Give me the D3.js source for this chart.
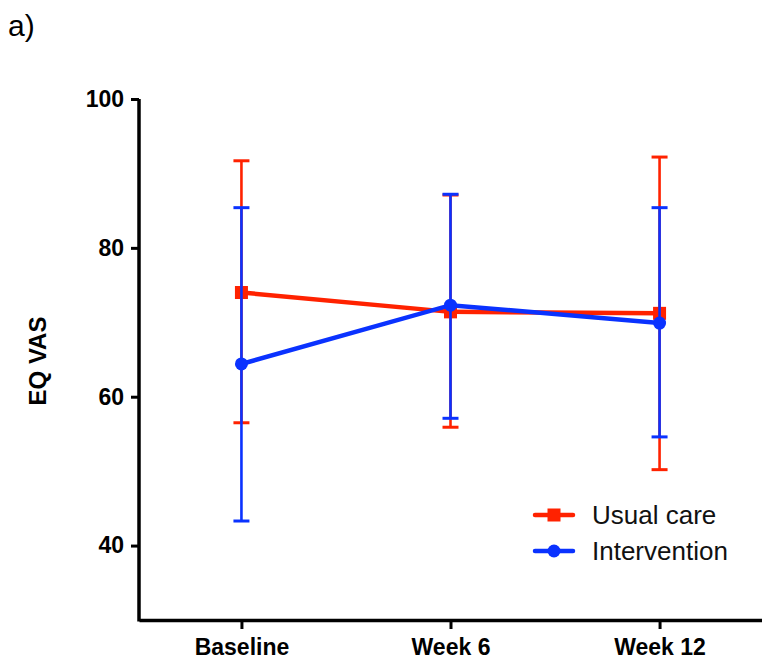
<!DOCTYPE html>
<html>
<head>
<meta charset="utf-8">
<script src="https://cdn.jsdelivr.net/npm/d3@7"></script>
<style>
  body { margin: 0; background: #fff; }
  svg { display: block; font-family: "Liberation Sans", Arial, Helvetica, sans-serif; }
</style>
</head>
<body>
<div id="chart"></div>
<script>
// time points
const timepoints = ['Baseline', 'Week 6', 'Week 12'];

// usual care: mean with lower / upper error
const usualMean = [74.0, 71.4, 71.2];
const usualLow = [56.5, 55.9, 50.2];
const usualHigh = [91.7, 87.1, 92.2];

// intervention: mean with lower / upper error
const interMean = [64.4, 72.3, 69.9];
const interLow = [43.3, 57.1, 54.6];
const interHigh = [85.4, 87.2, 85.4];

const yTicks = [40, 60, 80, 100];

const width = 762, height = 664;
const red = '#ff2200', blue = '#0a32ff';

const svg = d3.select('#chart')
    .append('svg')
    .attr('width', width)
    .attr('height', height);

const x = d3.scalePoint()
    .domain(timepoints)
    .range([139, 762])
    .padding(0.49);

const y = d3.scaleLinear()
    .domain([30, 100])
    .range([620, 99]);

// panel label
svg.append('text')
    .attr('x', 8)
    .attr('y', 36)
    .attr('font-size', 30)
    .text('a)');

// axes
const yAxis = svg.append('g')
    .attr('transform', 'translate(139,0)')
    .call(d3.axisLeft(y).tickValues(yTicks).tickSize(8).tickSizeOuter(0).tickPadding(7));

const xAxis = svg.append('g')
    .attr('transform', 'translate(0,620)')
    .call(d3.axisBottom(x).tickSize(9).tickSizeOuter(0).tickPadding(10));

[yAxis, xAxis].forEach(ax => {
    ax.select('.domain').attr('stroke', '#000').attr('stroke-width', 3.5);
    ax.selectAll('.tick line').attr('stroke', '#000').attr('stroke-width', 3);
    ax.selectAll('.tick text')
        .attr('fill', '#000')
        .attr('font-size', 23)
        .attr('font-weight', 'bold')
        .attr('font-family', '"Liberation Sans", Arial, sans-serif');
});
// close the corner between the two axes
yAxis.select('.domain').attr('d', 'M0,99V621.5');

svg.append('text')
    .attr('transform', 'translate(46,361) rotate(-90)')
    .attr('text-anchor', 'middle')
    .attr('font-size', 24)
    .attr('font-weight', 'bold')
    .text('EQ VAS');

// series
const series = [
    { name: 'Usual care', color: red, shape: 'square', mean: usualMean, low: usualLow, high: usualHigh },
    { name: 'Intervention', color: blue, shape: 'circle', mean: interMean, low: interLow, high: interHigh }
];

const line = d3.line()
    .x(d => x(d.t))
    .y(d => y(d.v));

function drawMarker(g, shape, color, cx, cy) {
    if (shape === 'square') {
        g.append('rect')
            .attr('x', cx - 6.5).attr('y', cy - 6.5)
            .attr('width', 13).attr('height', 13)
            .attr('fill', color);
    } else {
        g.append('circle')
            .attr('cx', cx).attr('cy', cy).attr('r', 6.5)
            .attr('fill', color);
    }
}

series.forEach(s => {
    const g = svg.append('g');
    const pts = timepoints.map((t, i) => ({ t, v: s.mean[i], lo: s.low[i], hi: s.high[i] }));

    // error bars
    pts.forEach(p => {
        const cx = x(p.t);
        g.append('line')
            .attr('x1', cx).attr('x2', cx)
            .attr('y1', y(p.hi)).attr('y2', y(p.lo))
            .attr('stroke', s.color).attr('stroke-width', 2.6);
        [p.hi, p.lo].forEach(v => {
            g.append('line')
                .attr('x1', cx - 8).attr('x2', cx + 8)
                .attr('y1', y(v)).attr('y2', y(v))
                .attr('stroke', s.color).attr('stroke-width', 3);
        });
    });

    g.append('path')
        .datum(pts)
        .attr('d', line)
        .attr('fill', 'none')
        .attr('stroke', s.color)
        .attr('stroke-width', 4.5);

    pts.forEach(p => drawMarker(g, s.shape, s.color, x(p.t), y(p.v)));
});

// legend
const legend = svg.append('g').attr('transform', 'translate(535,515)');
series.forEach((s, i) => {
    const row = legend.append('g').attr('transform', `translate(0,${i * 36})`);
    row.append('line')
        .attr('x1', 0).attr('x2', 38)
        .attr('y1', 0).attr('y2', 0)
        .attr('stroke', s.color).attr('stroke-width', 4.5)
        .attr('stroke-linecap', 'round');
    drawMarker(row, s.shape, s.color, 19, 0);
    row.append('text')
        .attr('x', 57)
        .attr('y', 9)
        .attr('font-size', 26)
        .attr('fill', '#111')
        .text(s.name);
});
</script>
</body>
</html>
